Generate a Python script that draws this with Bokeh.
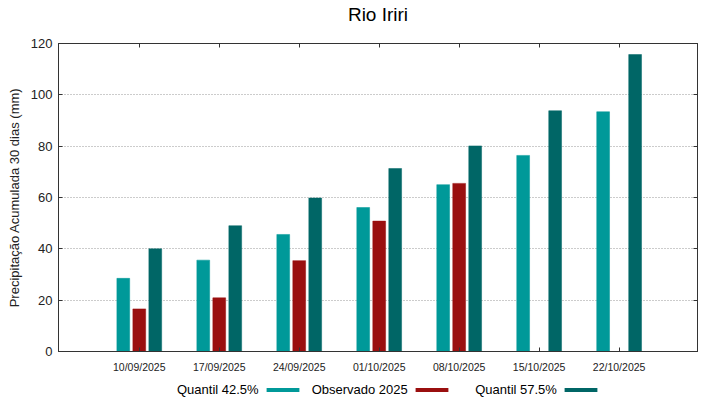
import numpy as np
from bokeh.plotting import figure
from bokeh.layouts import column
from bokeh.models import (Range1d, LinearAxis, FixedTicker, ColumnDataSource, Label,
                          Legend, LegendItem)
from bokeh.embed import file_html
from bokeh.resources import INLINE

# ---- data ----
dates = ["10/09/2025", "17/09/2025", "24/09/2025", "01/10/2025",
         "08/10/2025", "15/10/2025", "22/10/2025"]
quantil_425 = [28.5, 35.6, 45.6, 56.1, 65.0, 76.4, 93.4]
observado_2025 = [16.6, 20.9, 35.4, 50.8, 65.5, None, None]
quantil_575 = [40.0, 49.0, 59.8, 71.3, 80.1, 93.8, 115.7]
y_ticks = [0, 20, 40, 60, 80, 100, 120]

title_text = "Rio Iriri"
series_names = ["Quantil 42.5%", "Observado 2025", "Quantil 57.5%"]
colors = ["#009999", "#9a0f0f", "#006666"]
offsets = [-0.2, 0.0, 0.2]
bar_w = 0.16

FONT = "Liberation Sans"


def strip(h):
    s = figure(width=719, height=h, output_backend="svg", toolbar_location=None,
               x_range=Range1d(0, 1), y_range=Range1d(0, 1),
               min_border_left=0, min_border_right=0, min_border_top=0,
               min_border_bottom=0, x_axis_location=None, y_axis_location=None)
    s.outline_line_color = None
    s.xgrid.visible = False
    s.ygrid.visible = False
    return s


# ---- title strip ----
tt = strip(30)
tt.add_layout(Label(x=0.5, y=0.53, text=title_text, text_align="center",
                    text_baseline="alphabetic", text_font=FONT,
                    text_font_size="19px", text_color="black"))

# ---- main chart ----
fig = figure(width=719, height=348, output_backend="svg", toolbar_location=None,
             x_range=Range1d(-1.01, 6.98), y_range=Range1d(0, 120),
             min_border_left=58, min_border_right=22, min_border_top=13,
             min_border_bottom=27, x_axis_location=None, y_axis_location=None)
fig.background_fill_color = "white"
fig.border_fill_color = "white"
fig.outline_line_color = "#333333"
fig.outline_line_width = 1

idx = np.arange(len(dates))
for vals, col, off in zip([quantil_425, observado_2025, quantil_575], colors, offsets):
    xs = [float(i + off) for i, v in zip(idx, vals) if v is not None]
    ys = [v for v in vals if v is not None]
    src = ColumnDataSource(dict(x=xs, top=ys))
    fig.vbar(x="x", top="top", bottom=0, width=bar_w, source=src,
             fill_color=col, line_color=col, line_width=0.5)


def style(ax, labels=True):
    ax.axis_line_color = "#333333"
    ax.major_tick_line_color = "#333333"
    ax.major_tick_in = 4
    ax.major_tick_out = 0
    ax.minor_tick_line_color = None
    if not labels:
        ax.major_label_overrides = {t: "" for t in ax.ticker.ticks}
        ax.major_label_standoff = 0


xb = LinearAxis(ticker=FixedTicker(ticks=[int(i) for i in idx]))
xb.major_label_overrides = {int(i): d for i, d in zip(idx, dates)}
style(xb)
xb.major_label_text_font = FONT
xb.major_label_text_font_size = "10.5px"
xb.major_label_text_color = "#222222"
xb.major_label_standoff = 9
fig.add_layout(xb, "below")

yl = LinearAxis(ticker=FixedTicker(ticks=y_ticks))
style(yl)
yl.major_label_text_font = FONT
yl.major_label_text_font_size = "13px"
yl.major_label_text_color = "#222222"
yl.major_label_standoff = 6
yl.axis_label = "Precipitação Acumulada 30 dias (mm)"
yl.axis_label_text_font = FONT
yl.axis_label_text_font_size = "13px"
yl.axis_label_text_font_style = "normal"
yl.axis_label_text_color = "#222222"
yl.axis_label_standoff = 6
fig.add_layout(yl, "left")

xt = LinearAxis(ticker=FixedTicker(ticks=[int(i) for i in idx]))
style(xt, labels=False)
fig.add_layout(xt, "above")

yr = LinearAxis(ticker=FixedTicker(ticks=y_ticks))
style(yr, labels=False)
fig.add_layout(yr, "right")

fig.xgrid.visible = False
fig.ygrid.ticker = FixedTicker(ticks=y_ticks[1:-1])
fig.ygrid.grid_line_color = "#999999"
fig.ygrid.grid_line_dash = "1 2"
fig.ygrid.grid_line_width = 1

# ---- legend strip below the chart: text followed by its swatch ----
lg = strip(21)
# legend-only renderers (hidden in the strip itself)
swatches = [lg.vbar(x=[0.5], bottom=[5.0], top=[6.0], width=0.01,
                    fill_color=c, line_color=None, visible=False)
            for c in colors]
blank = lg.vbar(x=[0.5], bottom=[5.0], top=[6.0], width=0.01,
                fill_alpha=0, line_alpha=0, visible=False)

pad = "\u00a0" * 4
items = [LegendItem(label=series_names[0], renderers=[blank]),
         LegendItem(label=series_names[1], renderers=[swatches[0]]),
         LegendItem(label=pad + series_names[2], renderers=[swatches[1]]),
         LegendItem(label="\u00a0", renderers=[swatches[2]])]
legend = Legend(items=items, orientation="horizontal", location=(69, 2),
                glyph_width=41, glyph_height=5, label_standoff=9, spacing=3,
                padding=0, margin=0, border_line_color=None,
                background_fill_alpha=0, label_text_font=FONT,
                label_text_font_size="13px", label_text_color="black",
                label_height=14, inactive_fill_alpha=0)
lg.add_layout(legend, "center")

p = column(tt, fig, lg, spacing=0)

open("out.html", "w").write(file_html(p, INLINE))
